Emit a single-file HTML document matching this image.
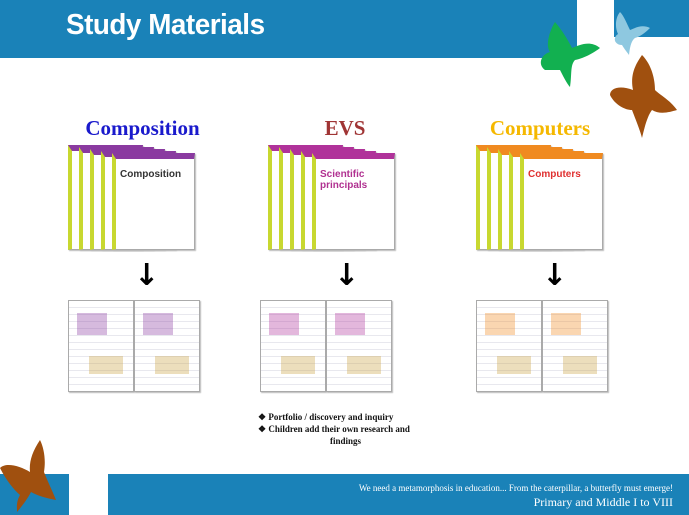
<!DOCTYPE html>
<html><head><meta charset="utf-8"><style>
body{margin:0;width:689px;height:515px;position:relative;overflow:hidden;background:#fff;font-family:"Liberation Serif",serif}
.abs{position:absolute}
.blue{background:#1a82b8}
.h{font-weight:bold;font-size:21px;position:absolute;text-align:center}
.pg{position:absolute;background:#fff;border:1px solid #aaa;box-shadow:1px 1px 1px #bbb}
</style></head><body>
<div class="abs blue" style="left:0;top:0;width:577px;height:58px"></div>
<div class="abs blue" style="left:614px;top:0;width:75px;height:37px"></div>
<div class="abs" style="left:66px;top:9px;color:#fff;font:bold 29px 'Liberation Sans',sans-serif;letter-spacing:-0.5px;transform:scaleX(0.96);transform-origin:left">Study Materials</div>

<svg class="abs" style="left:530px;top:0" width="159" height="140">
<g fill="#12b050"><path d="M25 22 C20 30 15 45 20 52 C10 55 8 65 15 70 L30 70 C35 80 38 85 40 87 C42 75 40 65 45 60 C55 58 65 52 70 48 C60 40 50 45 42 48 C38 40 32 30 25 22Z"/></g>
<g fill="#8ec8e0"><path d="M90 12 C85 18 85 28 88 34 C82 38 85 45 92 45 C95 50 97 52 99 55 C100 45 102 40 105 38 C112 36 118 30 120 28 C112 24 105 28 100 30 C97 24 94 16 90 12Z"/></g>
<g fill="#a0500f"><path d="M112 55 C105 65 100 75 103 90 C90 85 80 88 80 95 C85 105 95 110 102 110 C105 118 110 130 112 138 C115 125 118 115 122 110 C130 115 140 112 147 110 C140 100 130 95 125 90 C125 80 122 65 112 55Z"/></g>
</svg>

<div class="h" style="left:70px;top:116px;width:145px;color:#1a1acc">Composition</div>
<div class="h" style="left:300px;top:116px;width:90px;color:#a03535">EVS</div>
<div class="h" style="left:470px;top:116px;width:140px;color:#f5b800">Computers</div>

<div id="books"></div>

<div class="abs" style="left:258px;top:411px;font:bold 9px 'Liberation Serif',serif;line-height:12px;color:#111">
<div>❖ Portfolio / discovery and inquiry</div>
<div>❖ Children add their own research and</div>
<div style="padding-left:72px">findings</div>
</div>

<div class="abs blue" style="left:0;top:474px;width:69px;height:41px"></div>
<div class="abs blue" style="left:108px;top:474px;width:581px;height:41px"></div>
<svg class="abs" style="left:0;top:440px;z-index:2" width="64" height="75">
<path fill="#a0500f" d="M40 0 C32 12 29 22 30 32 C20 26 6 22 0 28 C6 40 14 50 20 55 C16 62 17 68 17 72 C23 65 28 58 31 52 C38 56 46 58 56 60 C52 50 47 40 44 32 C46 20 44 8 40 0Z"/>
</svg>
<div class="abs" style="right:16px;top:483px;color:#fff;font:9px 'Liberation Serif',serif;text-align:right">We need a metamorphosis in education... From the caterpillar, a butterfly must emerge!</div>
<div class="abs" style="right:16px;top:495px;color:#fff;font:12px 'Liberation Serif',serif;text-align:right">Primary and Middle I to VIII</div>

<script>
const clusters=[{x:68,c:'#8a3aa0',t:'Composition',tc:'#333'},{x:268,c:'#b0329a',t:'Scientific principals',tc:'#b03090'},{x:476,c:'#f08a20',t:'Computers',tc:'#e03030'}];
const root=document.getElementById('books');
clusters.forEach((cl,i)=>{
  for(let k=0;k<5;k++){
    const d=document.createElement('div');
    d.className='pg';
    
    
    d.style.cssText=`left:${cl.x+k*11}px;top:${145+k*2}px;width:${k==4?78:70}px;height:${98-k*2}px;border-top:6px solid ${cl.c};border-left:4px solid #c8d830`;
    if(k==4){d.innerHTML=`<div style="font:bold 10px 'Liberation Sans',sans-serif;color:${cl.tc};margin:10px 4px">${cl.t}</div>`;}
    root.appendChild(d);
  }
  const a=document.createElement('div');
  a.className='abs';
  
  
  a.style.cssText=`left:${cl.x+66}px;top:258px;font:bold 30px 'DejaVu Sans',sans-serif;color:#000`;
  a.textContent='↓';
  root.appendChild(a);
  for(let p=0;p<2;p++){
    const d=document.createElement('div');
    d.className='pg';
    
    
    d.style.cssText=`left:${cl.x+(i==1?-8:0)+p*66}px;top:300px;width:64px;height:90px;background:repeating-linear-gradient(#fff 0 6px,#e8e8ee 6px 7px)`;
    d.innerHTML=`<div style="position:absolute;left:8px;top:12px;width:30px;height:22px;background:${cl.c};opacity:.35"></div><div style="position:absolute;left:20px;top:55px;width:34px;height:18px;background:#c8a040;opacity:.35"></div>`;
    root.appendChild(d);
  }
});
</script>
</body></html>
